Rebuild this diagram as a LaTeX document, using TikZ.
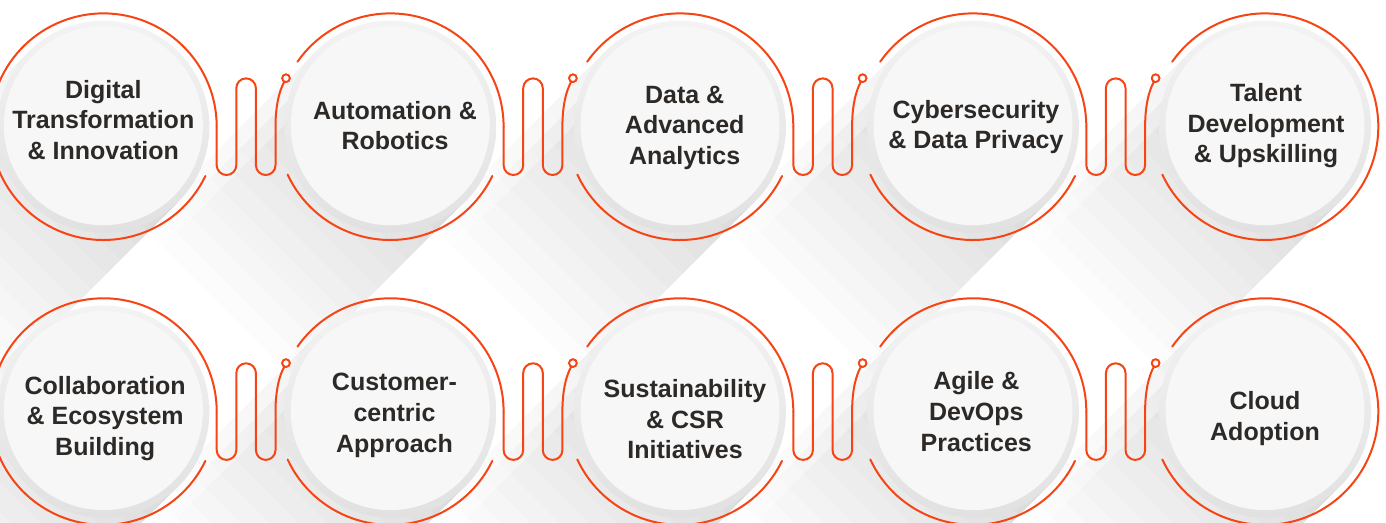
\documentclass[tikz,border=0pt]{standalone}
\usepackage{fontspec}
\setmainfont{Liberation Sans}
\usetikzlibrary{calc}
\definecolor{orng}{RGB}{247,68,20}
\definecolor{txt}{RGB}{44,41,38}
\definecolor{disktop}{RGB}{243,243,243}
\definecolor{diskbot}{RGB}{225,225,225}
\definecolor{diskfill}{RGB}{247,247,247}
\begin{document}
\begin{tikzpicture}[x=1pt,y=1pt,
  ring/.style={draw=orng, line width=2pt, line cap=round, line join=round},
  holder/.style={circle, minimum size=226.6pt, inner sep=0pt, outer sep=0pt},
  knob/.style={circle, draw=orng, line width=1.8pt, fill=white, minimum size=7.6pt, inner sep=0pt, outer sep=0pt},
  lbl/.style={font=\bfseries\fontsize{25}{30.8}\selectfont, text=txt, align=center, inner sep=0pt, anchor=north}]
\useasboundingbox (0,0) rectangle (1386,522);
\clip (0,0) rectangle (1386,522);
\fill[white] (0,0) rectangle (1386,522);

% circle holders
\foreach \row/\cy in {A/395.3, B/110.4}{
  \foreach \k/\cx in {1/103.4, 2/390.3, 3/680, 4/973, 5/1265}{
    \node[holder] (\row\k) at (\cx,\cy) {};
  }
}

% long shadows towards the lower left (soft upper edge, fading with length)
\foreach \row in {A,B}{
  \foreach \k in {1,...,5}{
    \foreach \j in {1,...,12}{
      \foreach \i in {0,1,2}{
        \fill[black, opacity=0.0047, shift={(\row\k.center)}, rotate=225]
          (0,{-106+15*\i}) rectangle ({\j*20.5},106);
      }
    }
  }
}

% grey discs
\foreach \row in {A,B}{
  \foreach \k in {1,...,5}{
    \shade[top color=disktop, bottom color=diskbot] (\row\k.center) circle (106);
    \fill[diskfill] ($(\row\k.center)+(0,1)$) circle (99.5);
  }
}

% small end knobs
\foreach \row/\cy in {A/395.3, B/110.4}{
  \foreach \n/\R in {2/216.7, 3/503.6, 4/793.3, 5/1086.3}{
    \node[knob] (s\row\n) at (\R+69.3,\cy+48.5) {};
  }
}

% orange rings
\foreach \row in {A,B}{
  \draw[ring] (\row1.center) ++(-25.8:113.3) arc[start angle=-25.8, end angle=-360, radius=113.3];
  \foreach \k in {2,3,4}{
    \draw[ring] (\row\k.center) ++(145:113.3) arc[start angle=145, end angle=0, radius=113.3];
    \draw[ring] (\row\k.center) ++(-155:113.3) arc[start angle=-155, end angle=-25.8, radius=113.3];
  }
  \draw[ring] (\row5.center) ++(145:113.3) arc[start angle=145, end angle=-155, radius=113.3];
  % serpentine connectors
  \foreach \k/\n in {1/2, 2/3, 3/4, 4/5}{
    \draw[ring] (\row\k.east) -- ++(0,-38.5)
      arc[start angle=180, end angle=360, radius=9.8] -- ++(0,77)
      arc[start angle=180, end angle=0, radius=9.8] -- ++(0,-77)
      arc[start angle=180, end angle=360, radius=9.8] -- ++(0,38.5)
      .. controls +(0,22) and +(-4.7,-8.1) .. (s\row\n.245);
  }
}
\foreach \row in {A,B}{
  \foreach \n in {2,3,4,5}{
    \node[knob] at (s\row\n.center) {};
  }
}

% labels
\node[lbl] (tA1) at (103.3,442.3) {Digital\\Transformation\\\& Innovation};
\node[lbl] (tA2) at (395,421.3) {Automation \&\\Robotics};
\node[lbl] (tA3) at (684.7,436.3) {Data \&\\Advanced\\Analytics};
\node[lbl] (tA4) at (976,422.3) {Cybersecurity\\\& Data Privacy};
\node[lbl] (tA5) at (1266,439) {Talent\\Development\\\& Upskilling};
\node[lbl] (tB1) at (105.2,146.3) {Collaboration\\\& Ecosystem\\Building};
\node[lbl] (tB2) at (394.5,149) {Customer-\\centric\\Approach};
\node[lbl] (tB3) at (685,143) {Sustainability\\\& CSR\\Initiatives};
\node[lbl] (tB4) at (976.3,150.6) {Agile \&\\DevOps\\Practices};
\node[lbl] (tB5) at (1265,130.6) {Cloud\\Adoption};
\end{tikzpicture}
\end{document}
